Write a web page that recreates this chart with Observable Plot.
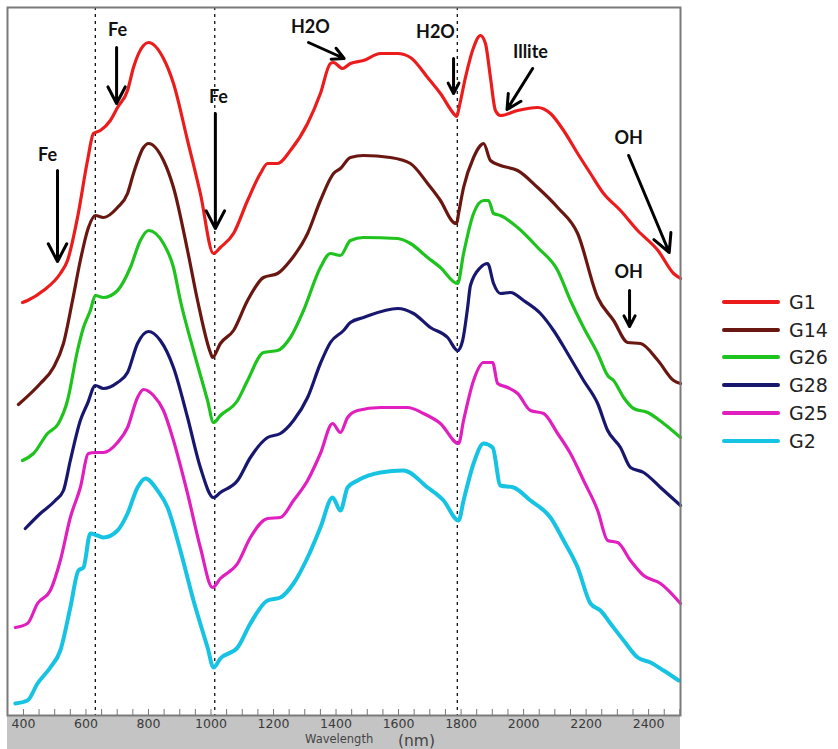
<!DOCTYPE html>
<html>
<head>
<meta charset="utf-8">
<script src="https://cdn.jsdelivr.net/npm/d3@7"></script>
<script src="https://cdn.jsdelivr.net/npm/@observablehq/plot@0.6"></script>
<style>
  html, body { margin: 0; padding: 0; background: #fff; }
  #wrap { position: relative; width: 838px; height: 749px; overflow: hidden; background: #fff; }
  #strip { position: absolute; left: 7px; top: 715px; width: 673px; height: 34px; background: #c4c4c4; }
  #chart { position: absolute; left: 0; top: 0; }
  .xl { position: absolute; font-family: "DejaVu Sans", Verdana, sans-serif; color: #444; white-space: nowrap; }
  #xlw { left: 305px; top: 732px; font-size: 11.5px; }
  #xlu { left: 398px; top: 732px; font-size: 15.5px; }
  #legend { position: absolute; left: 722px; top: 288px; font-family: "DejaVu Sans", Verdana, sans-serif; }
  #legend .row { height: 27.8px; display: flex; align-items: center; }
  #legend .sw { width: 58px; height: 4px; border-radius: 2px; margin-right: 9px; }
  #legend .lb { font-size: 19px; color: #222; }
</style>
</head>
<body>
<div id="wrap">
  <div id="strip"></div>
  <div id="chart"></div>
  <div class="xl" id="xlw">Wavelength</div>
  <div class="xl" id="xlu">(nm)</div>
  <div id="legend"></div>
</div>
<script>
// Sample names and colours
const sampleNames = ["G1", "G14", "G26", "G28", "G25", "G2"];
const sampleColors = ["#ec1c1c", "#6a1712", "#1ec31e", "#17176f", "#e11fbf", "#17c3e3"];

// Offset reflectance spectra, [wavelength nm, relative reflectance (offset)]
const G1 = [[397,0.826],[413,0.830],[464,0.850],[518,0.884],[541,0.910],[573,0.996],[605,1.110],[624,1.164],[646,1.170],[678,1.190],[701,1.216],[733,1.250],[752,1.296],[784,1.340],[800,1.346],[848,1.314],[880,1.264],[925,1.150],[966,1.044],[1008,0.924],[1030,0.936],[1072,0.964],[1117,1.030],[1158,1.084],[1181,1.104],[1213,1.104],[1254,1.130],[1309,1.184],[1350,1.244],[1382,1.304],[1392,1.306],[1421,1.294],[1446,1.304],[1488,1.310],[1542,1.324],[1597,1.324],[1638,1.316],[1693,1.276],[1734,1.244],[1782,1.200],[1786,1.198],[1795,1.220],[1814,1.276],[1840,1.336],[1862,1.360],[1878,1.344],[1894,1.276],[1910,1.210],[1926,1.200],[1981,1.210],[2045,1.216],[2086,1.204],[2128,1.170],[2173,1.124],[2214,1.084],[2256,1.044],[2310,1.010],[2365,0.970],[2430,0.930],[2480,0.884],[2502,0.874]];
const G14 = [[384,0.622],[454,0.664],[496,0.696],[528,0.744],[557,0.830],[582,0.910],[608,0.976],[630,1.000],[656,0.996],[701,1.016],[733,1.044],[752,1.084],[784,1.136],[800,1.144],[848,1.110],[880,1.056],[925,0.930],[957,0.830],[998,0.726],[1005,0.716],[1030,0.744],[1072,0.770],[1117,0.830],[1168,0.876],[1213,0.884],[1254,0.910],[1309,0.964],[1350,1.030],[1392,1.084],[1414,1.094],[1446,1.116],[1488,1.120],[1574,1.116],[1638,1.104],[1693,1.064],[1734,1.030],[1776,0.986],[1786,0.984],[1792,1.004],[1808,1.056],[1840,1.116],[1862,1.140],[1872,1.144],[1894,1.110],[1926,1.100],[1981,1.090],[2045,1.056],[2109,1.016],[2173,0.964],[2237,0.836],[2288,0.790],[2333,0.746],[2374,0.744],[2430,0.710],[2480,0.670],[2502,0.664]];
const G26 = [[397,0.510],[432,0.524],[477,0.564],[512,0.584],[541,0.630],[573,0.730],[592,0.776],[614,0.810],[630,0.840],[656,0.836],[701,0.850],[742,0.896],[774,0.950],[800,0.970],[848,0.944],[880,0.896],[902,0.830],[944,0.730],[989,0.630],[1008,0.586],[1030,0.600],[1085,0.630],[1117,0.670],[1168,0.726],[1213,0.730],[1254,0.756],[1296,0.810],[1350,0.896],[1382,0.924],[1414,0.920],[1446,0.950],[1488,0.956],[1597,0.954],[1638,0.944],[1693,0.916],[1734,0.896],[1789,0.864],[1808,0.924],[1840,1.004],[1872,1.030],[1888,1.030],[1904,1.004],[1926,1.000],[1981,0.976],[2045,0.936],[2109,0.890],[2150,0.830],[2192,0.776],[2237,0.724],[2269,0.680],[2288,0.670],[2320,0.636],[2352,0.614],[2397,0.606],[2448,0.584],[2502,0.556]];
const G28 = [[406,0.374],[454,0.404],[502,0.430],[528,0.450],[550,0.510],[582,0.590],[605,0.624],[630,0.660],[656,0.654],[701,0.666],[733,0.686],[765,0.744],[800,0.768],[838,0.750],[880,0.696],[925,0.596],[966,0.496],[1008,0.436],[1030,0.446],[1085,0.470],[1126,0.516],[1181,0.556],[1222,0.564],[1264,0.590],[1309,0.636],[1350,0.704],[1382,0.746],[1424,0.770],[1446,0.786],[1488,0.796],[1597,0.814],[1648,0.804],[1702,0.776],[1757,0.756],[1789,0.730],[1805,0.750],[1821,0.816],[1830,0.860],[1862,0.896],[1885,0.904],[1904,0.864],[1926,0.844],[1958,0.846],[2000,0.830],[2054,0.804],[2096,0.770],[2141,0.724],[2192,0.670],[2237,0.624],[2269,0.570],[2310,0.536],[2342,0.496],[2384,0.486],[2438,0.456],[2502,0.420]];
const G25 = [[374,0.176],[413,0.184],[445,0.224],[486,0.250],[518,0.310],[550,0.396],[582,0.456],[608,0.524],[630,0.526],[656,0.526],[701,0.546],[733,0.576],[765,0.636],[784,0.652],[816,0.640],[848,0.610],[880,0.550],[925,0.444],[966,0.336],[1005,0.256],[1030,0.274],[1085,0.304],[1126,0.356],[1181,0.394],[1222,0.396],[1264,0.430],[1309,0.470],[1350,0.524],[1389,0.584],[1414,0.566],[1437,0.596],[1469,0.610],[1542,0.616],[1629,0.616],[1680,0.604],[1734,0.584],[1792,0.544],[1808,0.590],[1840,0.670],[1872,0.706],[1901,0.706],[1917,0.664],[1949,0.656],[1981,0.644],[2022,0.610],[2064,0.604],[2109,0.564],[2150,0.524],[2192,0.470],[2237,0.410],[2269,0.350],[2301,0.346],[2342,0.310],[2384,0.280],[2438,0.264],[2502,0.224]];
const G2 = [[374,0.024],[413,0.030],[445,0.064],[486,0.096],[518,0.130],[550,0.216],[576,0.290],[592,0.296],[614,0.364],[637,0.360],[656,0.356],[701,0.370],[733,0.404],[765,0.456],[790,0.474],[829,0.450],[861,0.416],[902,0.330],[944,0.230],[989,0.136],[1008,0.096],[1030,0.114],[1085,0.136],[1126,0.184],[1181,0.230],[1222,0.236],[1264,0.264],[1309,0.316],[1350,0.376],[1389,0.436],[1414,0.410],[1437,0.456],[1469,0.470],[1542,0.486],[1616,0.490],[1693,0.456],[1744,0.430],[1792,0.390],[1808,0.430],[1840,0.504],[1872,0.544],[1901,0.536],[1926,0.460],[1968,0.456],[2022,0.430],[2086,0.396],[2128,0.350],[2173,0.296],[2214,0.224],[2246,0.210],[2278,0.184],[2320,0.150],[2365,0.116],[2406,0.106],[2448,0.090],[2496,0.070]];

// Absorption feature markers (dashed verticals)
const featureLines = [630, 1012, 1788];

// X axis tick labels
const xTickLabels = [400, 600, 800, 1000, 1200, 1400, 1600, 1800, 2000, 2200, 2400];
const xMinorTicks = d3.range(400, 2501, 50);

// Annotation labels: [text, wavelength, value]
const annoText = [["Fe", 477, 1.120], ["Fe", 701, 1.370], ["Fe", 1024, 1.236], ["H2O", 1318, 1.376], ["H2O", 1718, 1.366], ["Illite", 2022, 1.326], ["OH", 2336, 1.154], ["OH", 2336, 0.886]];
// Annotation arrows: [x1, y1, x2, y2]
const annoArrows = [[509, 1.090, 509, 0.908], [698, 1.336, 698, 1.224], [1014, 1.204, 1014, 0.974], [1312, 1.346, 1426, 1.314], [1776, 1.314, 1776, 1.244], [2029, 1.294, 1947, 1.212], [2336, 1.120, 2466, 0.926], [2339, 0.850, 2339, 0.778]];

const seriesData = [G1, G14, G26, G28, G25, G2];
const rows = seriesData.flatMap((s, i) => s.map(([w, r]) => ({sample: sampleNames[i], wavelength: w, value: r})));

const plot = Plot.plot({
  width: 838,
  height: 749,
  marginLeft: 7,
  marginRight: 158,
  marginTop: 7,
  marginBottom: 34,
  style: {background: "none", overflow: "visible"},
  x: {domain: [349, 2502], axis: null},
  y: {domain: [0, 1.416], axis: null},
  color: {domain: sampleNames, range: sampleColors},
  marks: [
    Plot.ruleX(featureLines, {stroke: "#111", strokeWidth: 1.3, strokeDasharray: "3,4"}),
    Plot.line(rows.filter(d => d.sample !== "G2"), {x: "wavelength", y: "value", z: "sample", stroke: "sample", strokeWidth: 3.2, curve: "monotone-x"}),
    Plot.line(rows.filter(d => d.sample === "G2"), {x: "wavelength", y: "value", stroke: "sample", strokeWidth: 4, curve: "monotone-x"}),
    Plot.arrow(annoArrows, {x1: d => d[0], y1: d => d[1], x2: d => d[2], y2: d => d[3], stroke: "#000", strokeWidth: 3, headLength: 10, headAngle: 55}),
    Plot.text(annoText, {x: d => d[1], y: d => d[2], text: d => d[0], fontFamily: "Lato, 'Open Sans', sans-serif", fontWeight: "bold", fontSize: 18, fill: "#111"}),
    Plot.tickX(xMinorTicks, {x: d => d, stroke: "#777", strokeWidth: 1, insetTop: 702}),
    Plot.axisX(xTickLabels, {tickSize: 0, tickPadding: 4, fontSize: 12.5, fontFamily: "DejaVu Sans, Verdana, sans-serif", fill: "#3a3a3a", tickFormat: d => String(d), label: null}),
    Plot.frame({stroke: "#7a7a7a", strokeWidth: 2})
  ]
});
document.getElementById("chart").appendChild(plot);

const legend = document.getElementById("legend");
sampleNames.forEach((n, i) => {
  const row = document.createElement("div");
  row.className = "row";
  row.innerHTML = `<div class="sw" style="background:${sampleColors[i]}"></div><span class="lb">${n}</span>`;
  legend.appendChild(row);
});
</script>
</body>
</html>
